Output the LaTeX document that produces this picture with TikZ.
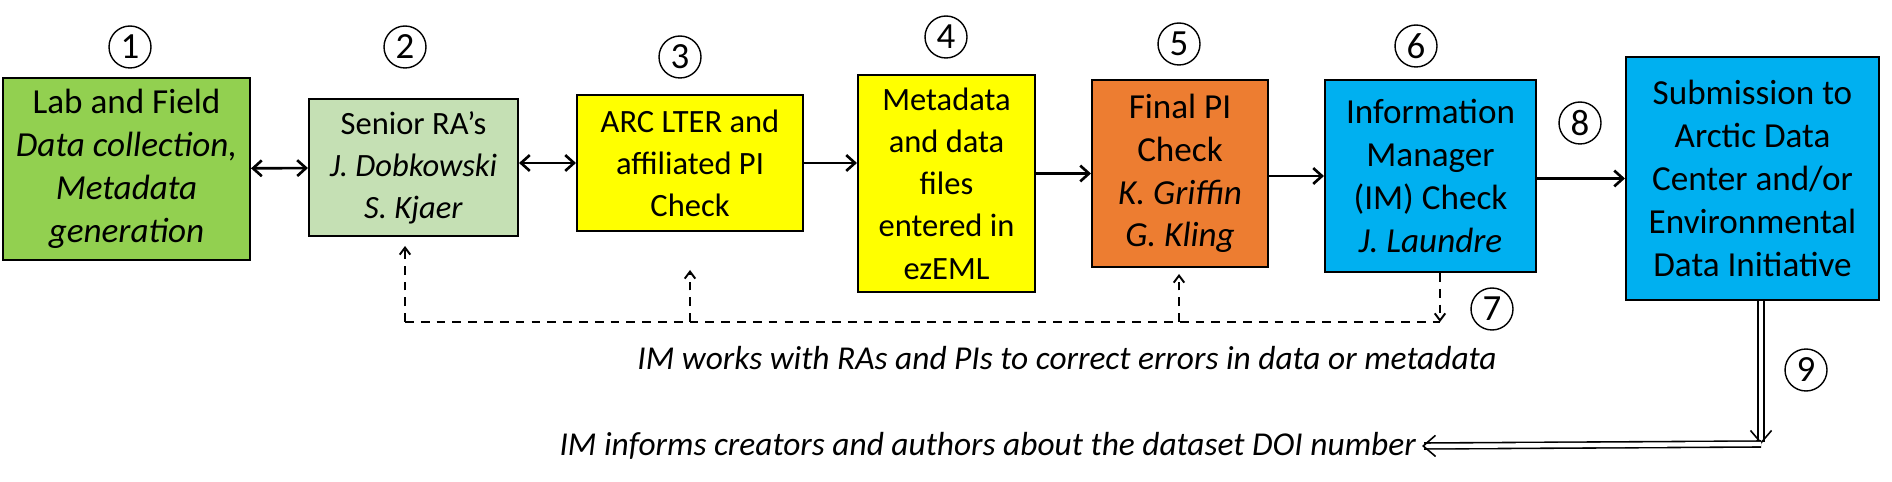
\documentclass[tikz,border=0pt]{standalone}
\usepackage{fontspec}
\setmainfont{Carlito}
\usetikzlibrary{arrows.meta}
\definecolor{fieldgreen}{HTML}{92D050}
\definecolor{ragreen}{HTML}{C5E0B4}
\definecolor{checkyellow}{HTML}{FFFF00}
\definecolor{piorange}{HTML}{ED7D31}
\definecolor{imblue}{HTML}{00B0F0}
\begin{document}
\begin{tikzpicture}[x=0.02cm,y=-0.02cm]
  \tikzset{ box/.style={draw,line width=1.2pt,align=center,inner sep=2pt,
      font=\fontsize{20}{24.4}\selectfont},
    num/.style={circle,draw,line width=0.8pt,inner sep=0pt,minimum size=0.84cm,
      font=\fontsize{21}{21}\selectfont},
    flow/.style={line width=1.5pt,-{Straight Barb[length=5pt,width=9pt]}},
    back/.style={line width=1.1pt,dashed,dash pattern=on 5pt off 4pt},
  }
  \useasboundingbox (0,0) rectangle (1892,482);
  \node[box, fill=fieldgreen, minimum width=4.94cm, minimum height=3.64cm] (B1) at (126.5,169)
    {Lab and Field\\ \textit{Data collection,}\\ \textit{Metadata}\\ \textit{generation}};
  \node[box, fill=ragreen, minimum width=4.18cm, minimum height=4.94cm, minimum height=2.74cm,
    font=\fontsize{18.5}{24}\selectfont] (B2) at (413.5,167.5)
    {Senior RA’s\\ \textit{J. Dobkowski}\\ \textit{S. Kjaer}};
  \node[box, fill=checkyellow, minimum width=4.52cm, minimum height=2.72cm,
    font=\fontsize{18.5}{24}\selectfont] (B3) at (690,163)
    {ARC LTER and\\ affiliated PI\\ Check};
  \node[box, fill=checkyellow, minimum width=3.54cm, minimum height=4.34cm,
    font=\fontsize{18.5}{24}\selectfont] (B4) at (946.5,183.5)
    {Metadata\\ and data\\ files\\ entered in\\ ezEML};
  \node[box, fill=piorange, minimum width=3.52cm, minimum height=3.74cm] (B5) at (1180,173.5)
    {Final PI\\ Check\\ \textit{K. Griffin}\\ \textit{G. Kling}};
  \node[box, fill=imblue, minimum width=4.22cm, minimum height=3.84cm] (B6) at (1430.5,176)
    {Information\\ Manager\\ (IM) Check\\ \textit{J. Laundre}};
  \node[box, fill=imblue, minimum width=5.06cm, minimum height=4.86cm] (B7) at (1752.5,178.5)
    {Submission to\\ Arctic Data\\ Center and/or\\ Environmental\\ Data Initiative};

  % step numbers
  \node[num] (N1) at (130,47) {1};
  \node[num] (N2) at (405,47) {2};
  \node[num] (N3) at (680,57) {3};
  \node[num] (N4) at (946,37) {4};
  \node[num] (N5) at (1179,44) {5};
  \node[num] (N6) at (1416,46) {6};
  \node[num] (N7) at (1492,309) {7};
  \node[num] (N8) at (1580,123) {8};
  \node[num] (N9) at (1806,370) {9};

  % main flow
  \draw[flow, {Straight Barb[length=5pt,width=9pt]}-{Straight Barb[length=5pt,width=9pt]}] (B1) -- (B2);
  \draw[flow, {Straight Barb[length=5pt,width=9pt]}-{Straight Barb[length=5pt,width=9pt]}] (B2.east |- B3) -- (B3);
  \draw[flow] (B3) -- (B3 -| B4.west);
  \draw[flow] (B4.east |- B5) -- (B5);
  \draw[flow] (B5.east |- B6) -- (B6);
  \draw[flow] (B6.east |- B7) -- (B7);

  % feedback from the IM
  \coordinate (L1) at (405,322);
  \coordinate (L2) at (1440,322);
  \coordinate (U3) at (690,322);
  \coordinate (U5) at (1179,322);
  \draw[back] (L1) -- (L2);
  \draw[back,-{Straight Barb[length=4pt,width=6pt]}] (L1) -- (405,246);
  \draw[back,-{Straight Barb[length=4pt,width=6pt]}] (U3) -- (690,270);
  \draw[back,-{Straight Barb[length=4pt,width=6pt]}] (U5) -- (1179,274);
  \draw[back,-{Straight Barb[length=4pt,width=6pt]}] (B6.south -| L2) -- (L2);
  \node[font=\fontsize{19}{19}\selectfont\itshape] (T1) at (1067,358)
    {IM works with RAs and PIs to correct errors in data or metadata};

  % DOI notice
  \node[font=\fontsize{19}{19}\selectfont\itshape, anchor=east] (T2) at (1422,446)
    {IM informs creators and authors about the dataset DOI number};
  \coordinate (C9) at (1761,444);
  \draw[double,double distance=2.5pt,line width=0.9pt,-{Straight Barb[length=7pt,width=12pt]}]
    (B7.south -| C9) -- (C9);
  \draw[double,double distance=2.5pt,line width=0.9pt,-{Straight Barb[length=7pt,width=12pt]}]
    (C9) -- (T2.east);
\end{tikzpicture}
\end{document}
